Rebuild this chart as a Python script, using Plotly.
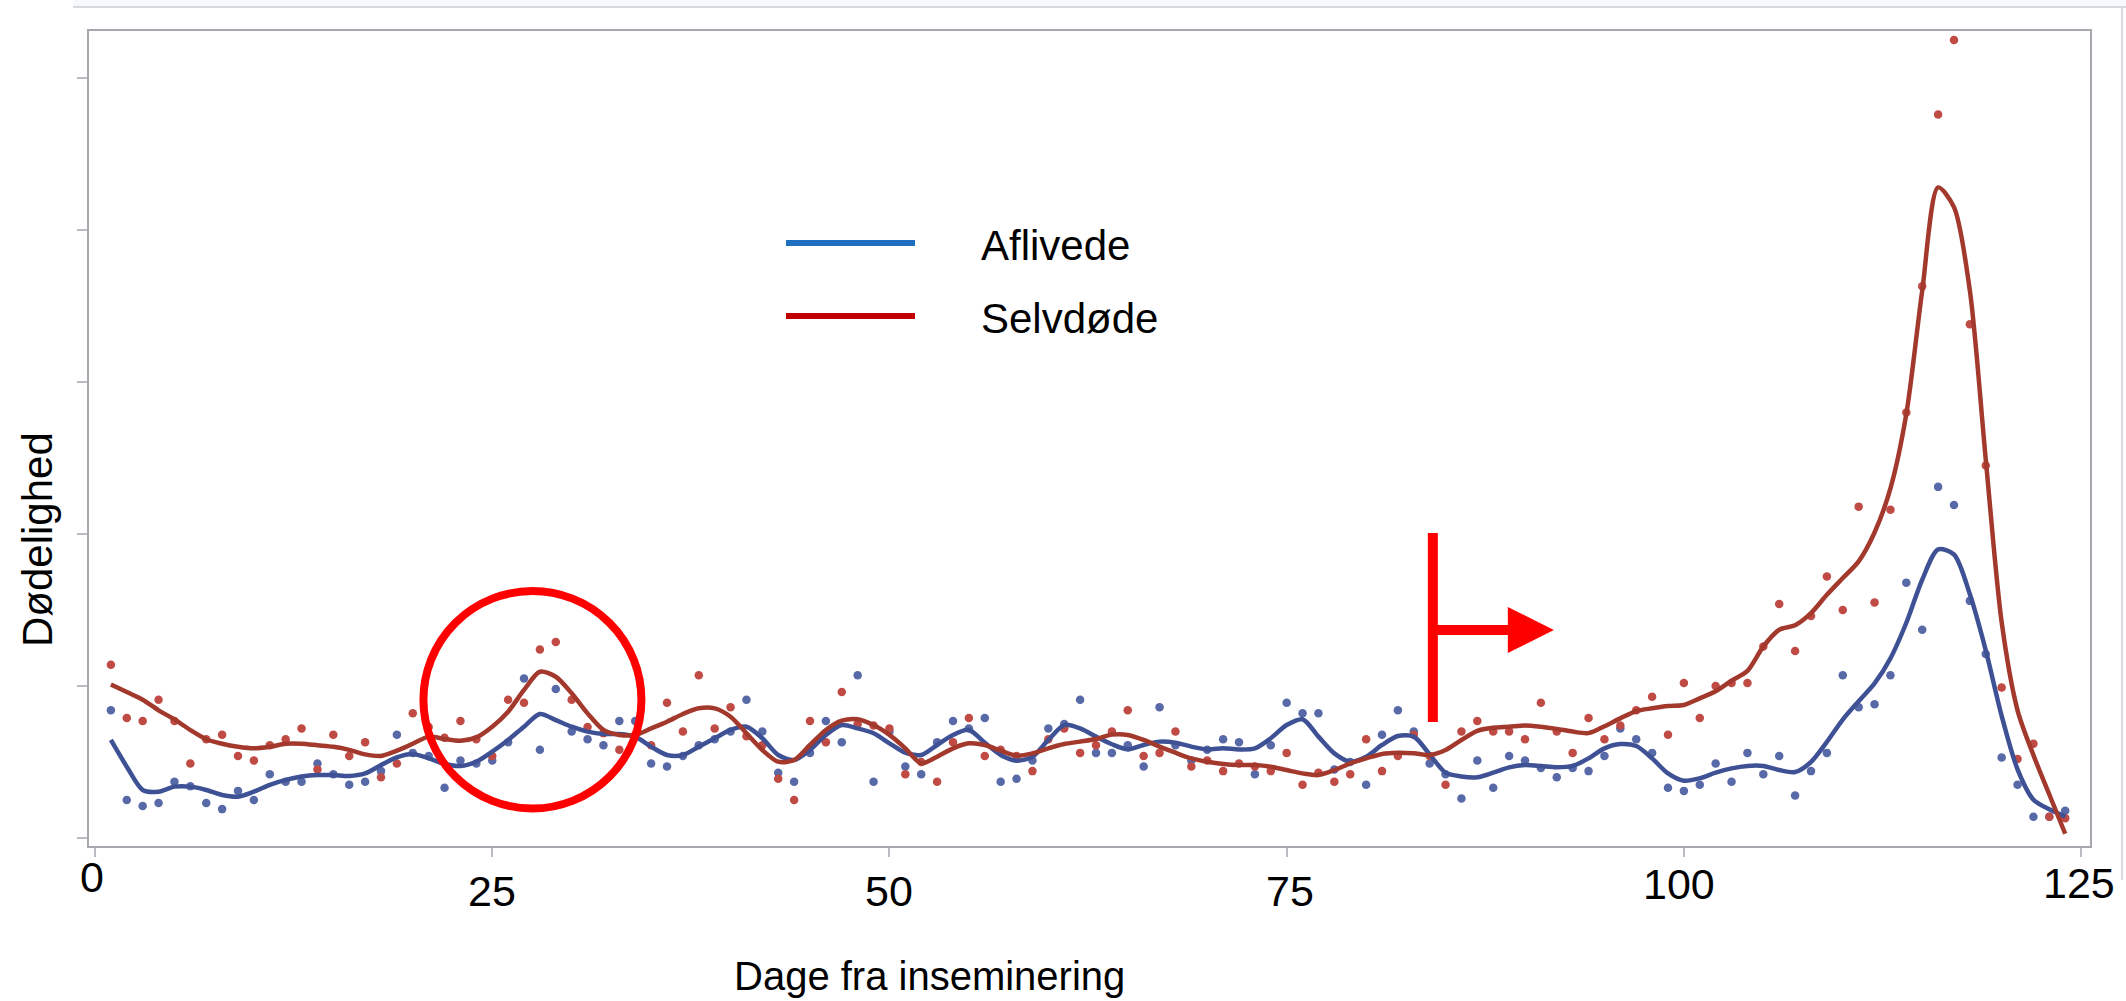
import plotly.graph_objects as go

# Days since insemination
days = list(range(1, 125))

# Daily mortality, culled sows (Aflivede)
aflivede = [
    0.84, 0.25, 0.21, 0.23, 0.37, 0.34, 0.23, 0.19, 0.31, 0.25,
    0.42, 0.37, 0.37, 0.49, 0.42, 0.35, 0.37, 0.44, 0.68, 0.56,
    0.54, 0.33, 0.51, 0.49, 0.51, 0.63, 1.05, 0.58, 0.98, 0.70,
    0.65, 0.61, 0.77, 0.77, 0.49, 0.47, 0.54, 0.61, 0.65, 0.70,
    0.91, 0.70, 0.43, 0.37, 0.56, 0.77, 0.63, 1.07, 0.37, 0.70,
    0.47, 0.42, 0.63, 0.77, 0.72, 0.79, 0.37, 0.39, 0.51, 0.72,
    0.75, 0.91, 0.56, 0.56, 0.61, 0.47, 0.86, 0.61, 0.51, 0.58,
    0.65, 0.63, 0.42, 0.61, 0.89, 0.82, 0.82, 0.45, 0.50, 0.35,
    0.68, 0.84, 0.70, 0.49, 0.42, 0.26, 0.51, 0.33, 0.54, 0.51,
    0.46, 0.40, 0.46, 0.44, 0.54, 0.72, 0.65, 0.56, 0.33, 0.31,
    0.35, 0.49, 0.37, 0.56, 0.42, 0.54, 0.28, 0.44, 0.56, 1.07,
    0.86, 0.88, 1.07, 1.68, 1.37, 2.31, 2.19, 1.56, 1.21, 0.53,
    0.35, 0.14, 0.14, 0.18,
]

# Daily mortality, sows found dead (Selvdøde)
selvdoede = [
    1.14, 0.79, 0.77, 0.91, 0.77, 0.49, 0.65, 0.68, 0.54, 0.51,
    0.61, 0.65, 0.72, 0.45, 0.68, 0.54, 0.63, 0.40, 0.49, 0.82,
    0.73, 0.66, 0.77, 0.65, 0.54, 0.91, 0.89, 1.24, 1.29, 0.91,
    0.73, 0.69, 0.58, 0.68, 0.61, 0.89, 0.70, 1.07, 0.72, 0.86,
    0.67, 0.61, 0.39, 0.25, 0.77, 0.63, 0.96, 0.75, 0.74, 0.72,
    0.42, 0.50, 0.37, 0.63, 0.79, 0.54, 0.58, 0.54, 0.44, 0.65,
    0.72, 0.56, 0.61, 0.70, 0.84, 0.54, 0.56, 0.70, 0.47, 0.51,
    0.44, 0.49, 0.47, 0.44, 0.56, 0.35, 0.43, 0.37, 0.42, 0.65,
    0.44, 0.54, 0.68, 0.54, 0.35, 0.70, 0.77, 0.70, 0.70, 0.65,
    0.89, 0.70, 0.56, 0.79, 0.65, 0.74, 0.84, 0.93, 0.68, 1.02,
    0.79, 1.00, 1.02, 1.02, 1.26, 1.54, 1.23, 1.46, 1.72, 1.50,
    2.18, 1.55, 2.16, 2.80, 3.63, 4.76, 5.25, 3.38, 2.45, 0.99,
    0.52, 0.62, 0.14, 0.13,
]

# Smoothed trend, culled sows
aflivede_trend = [
    0.645, 0.469, 0.316, 0.305, 0.338, 0.338, 0.316, 0.283, 0.272, 0.305,
    0.349, 0.382, 0.404, 0.414, 0.414, 0.408, 0.425, 0.480, 0.531, 0.553,
    0.524, 0.487, 0.474, 0.502, 0.568, 0.645, 0.732, 0.816, 0.776, 0.732,
    0.700, 0.684, 0.684, 0.667, 0.601, 0.546, 0.546, 0.601, 0.656, 0.711,
    0.732, 0.656, 0.546, 0.513, 0.579, 0.678, 0.743, 0.721, 0.689, 0.623,
    0.561, 0.546, 0.612, 0.678, 0.711, 0.627, 0.546, 0.509, 0.535, 0.645,
    0.743, 0.721, 0.667, 0.617, 0.583, 0.612, 0.634, 0.627, 0.601, 0.583,
    0.590, 0.583, 0.590, 0.656, 0.743, 0.781, 0.667, 0.557, 0.502, 0.535,
    0.612, 0.671, 0.667, 0.550, 0.430, 0.405, 0.400, 0.430, 0.465, 0.480,
    0.474, 0.465, 0.474, 0.524, 0.590, 0.618, 0.605, 0.524, 0.425, 0.377,
    0.393, 0.430, 0.458, 0.474, 0.474, 0.447, 0.434, 0.500, 0.632, 0.779,
    0.900, 1.017, 1.182, 1.416, 1.699, 1.899, 1.865, 1.603, 1.234, 0.803,
    0.452, 0.252, 0.189, 0.141,
]

# Smoothed trend, sows found dead
selvdoede_trend = [
    1.010, 0.960, 0.910, 0.840, 0.780, 0.710, 0.650, 0.620, 0.600, 0.590,
    0.600, 0.620, 0.620, 0.610, 0.600, 0.580, 0.550, 0.540, 0.575, 0.620,
    0.667, 0.651, 0.640, 0.662, 0.732, 0.831, 0.974, 1.094, 1.061, 0.952,
    0.820, 0.711, 0.678, 0.678, 0.721, 0.765, 0.816, 0.853, 0.853, 0.798,
    0.689, 0.579, 0.502, 0.513, 0.612, 0.711, 0.772, 0.781, 0.743, 0.678,
    0.590, 0.491, 0.535, 0.590, 0.623, 0.612, 0.575, 0.542, 0.557, 0.590,
    0.618, 0.634, 0.651, 0.680, 0.678, 0.645, 0.601, 0.561, 0.524, 0.502,
    0.487, 0.480, 0.480, 0.469, 0.447, 0.425, 0.414, 0.447, 0.491, 0.524,
    0.553, 0.561, 0.557, 0.546, 0.579, 0.645, 0.705, 0.725, 0.732, 0.740,
    0.732, 0.718, 0.700, 0.690, 0.735, 0.787, 0.835, 0.853, 0.868, 0.875,
    0.919, 0.965, 1.035, 1.100, 1.260, 1.370, 1.400, 1.480, 1.600, 1.710,
    1.820, 2.010, 2.300, 2.790, 3.600, 4.280, 4.150, 3.600, 2.490, 1.420,
    0.840, 0.545, 0.286, 0.028,
]

x_ticks = [0, 25, 50, 75, 100, 125]
x_tick_text = ["0", "25", "50", "75", "100", "125"]
y_ticks = [0, 1, 2, 3, 4, 5]

legend_names = ["Aflivede", "Selvdøde"]

# ---- styling ----
FONT = "Liberation Sans, Arial, sans-serif"
BLUE_PT, BLUE_LN = "#5869a8", "#3f5195"
RED_PT, RED_LN = "#c04b45", "#a3382c"
LEG_BLUE, LEG_RED = "#1f6fc1", "#c00000"
ACCENT = "#ff0000"

W, H = 2126, 1001
L, R, T, B = 89, 36, 31, 155
PW, PH = W - L - R, H - T - B


def px(xp):
    return (xp - L) / PW


def py(yp):
    return (H - B - yp) / PH


fig = go.Figure()
fig.add_trace(go.Scatter(x=days, y=aflivede, mode="markers",
                         marker=dict(color=BLUE_PT, size=8.5), showlegend=False))
fig.add_trace(go.Scatter(x=days, y=selvdoede, mode="markers",
                         marker=dict(color=RED_PT, size=8.5), showlegend=False))
fig.add_trace(go.Scatter(x=days, y=aflivede_trend, mode="lines",
                         line=dict(color=BLUE_LN, width=4.5, shape="spline", smoothing=0.8),
                         showlegend=False))
fig.add_trace(go.Scatter(x=days, y=selvdoede_trend, mode="lines",
                         line=dict(color=RED_LN, width=4.5, shape="spline", smoothing=0.8),
                         showlegend=False))

shapes = []
annotations = []

# circle around the early peak
shapes.append(dict(type="circle", xref="x", yref="y", x0=20.67, x1=34.39, y0=0.194, y1=1.625,
                   line=dict(color=ACCENT, width=8)))
# marker "from here on" with arrow
shapes.append(dict(type="line", xref="x", yref="y", x0=84.2, x1=84.2, y0=0.763, y1=2.007,
                   line=dict(color=ACCENT, width=10)))
shapes.append(dict(type="line", xref="x", yref="y", x0=84.2, x1=89.2, y0=1.368, y1=1.368,
                   line=dict(color=ACCENT, width=10)))
shapes.append(dict(type="path", xref="x", yref="y",
                   path="M 88.92,1.52 L 91.82,1.368 L 88.92,1.217 Z",
                   fillcolor=ACCENT, line=dict(color=ACCENT, width=0)))

# legend
for name, col, yp in zip(legend_names, [LEG_BLUE, LEG_RED], [243, 316]):
    shapes.append(dict(type="line", xref="paper", yref="paper", x0=px(786), x1=px(915),
                       y0=py(yp), y1=py(yp), line=dict(color=col, width=6)))
    annotations.append(dict(text=name, xref="paper", yref="paper", x=px(979), y=py(yp + 2),
                            xanchor="left", yanchor="middle", showarrow=False,
                            font=dict(family=FONT, size=42, color="#000000")))

# header strip and outer frame
shapes.append(dict(type="rect", xref="paper", yref="paper", x0=px(73), x1=px(2126),
                   y0=py(7), y1=py(-2), fillcolor="#f6f8fc", line=dict(width=0), layer="below"))
shapes.append(dict(type="line", xref="paper", yref="paper", x0=px(73), x1=px(2126),
                   y0=py(7), y1=py(7), line=dict(color="#d6d9de", width=2)))
shapes.append(dict(type="line", xref="paper", yref="paper", x0=px(2122), x1=px(2122),
                   y0=py(7), y1=py(880), line=dict(color="#d6d9de", width=2)))

# x tick labels
tick_dx = [-3, 0, 0, 3, -5, -2]
tick_y = [877, 891, 891, 891, 884, 883]
for v, t, dx, yp in zip(x_ticks, x_tick_text, tick_dx, tick_y):
    annotations.append(dict(text=t, xref="x", yref="paper", x=v, y=py(yp), xshift=dx,
                            xanchor="center", yanchor="middle", showarrow=False,
                            font=dict(family=FONT, size=43, color="#000000")))

# axis titles
annotations.append(dict(text="Dage fra inseminering", xref="paper", yref="paper",
                        x=px(929), y=py(976), xanchor="center", yanchor="middle",
                        showarrow=False, font=dict(family=FONT, size=40, color="#000000")))
annotations.append(dict(text="Dødelighed", xref="paper", yref="paper",
                        x=px(37), y=py(540), xanchor="center", yanchor="middle", textangle=-90,
                        showarrow=False, font=dict(family=FONT, size=42, color="#000000")))

axis_common = dict(showline=True, mirror=True, linecolor="#a5a9ae", linewidth=2,
                   showgrid=False, zeroline=False, ticks="outside", tickcolor="#b9bcc0",
                   tickwidth=2, showticklabels=False)

fig.update_layout(
    width=W, height=H, autosize=False,
    margin=dict(l=L, r=R, t=T, b=B),
    paper_bgcolor="#ffffff", plot_bgcolor="#ffffff",
    xaxis=dict(range=[-0.378, 125.56], tickvals=x_ticks, ticklen=9, **axis_common),
    yaxis=dict(range=[-0.0526, 5.309], tickvals=y_ticks, ticklen=10, **axis_common),
    shapes=shapes, annotations=annotations, showlegend=False,
)

fig.write_html("out.html")
